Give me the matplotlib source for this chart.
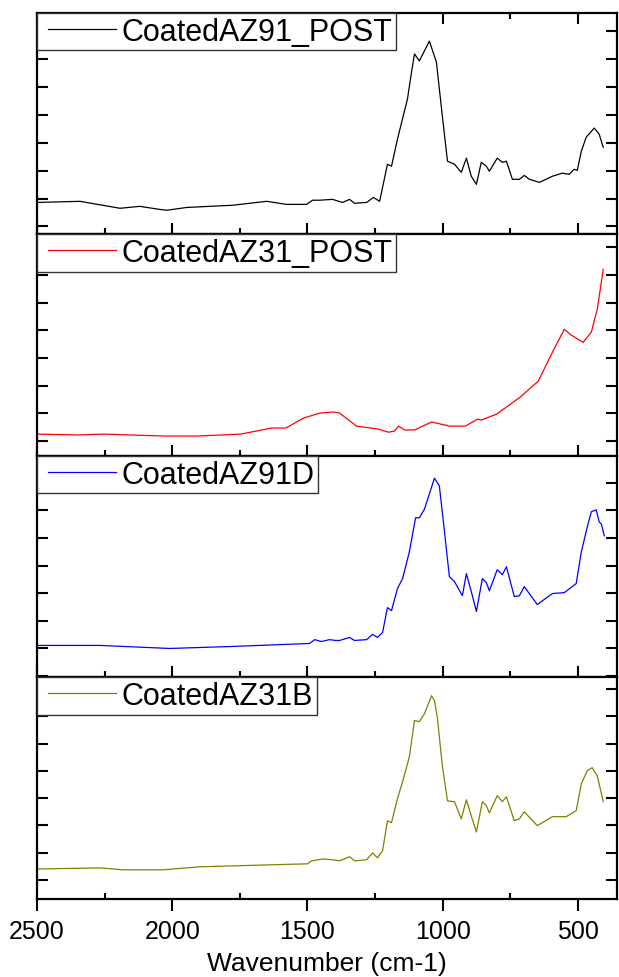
import matplotlib
matplotlib.use("Agg")
import matplotlib.pyplot as plt
from matplotlib.ticker import MultipleLocator
from matplotlib.legend_handler import HandlerLine2D

plt.rcParams['font.family'] = ['Liberation Sans', 'DejaVu Sans']

# ---- data (wavenumber, relative absorbance in tick units) ----
labels = ["CoatedAZ91_POST", "CoatedAZ31_POST", "CoatedAZ91D", "CoatedAZ31B"]
colors = ["#000000", "#ff0000", "#0000ff", "#808000"]

wn_az91_post = [2500, 2341, 2193, 2120, 2046, 2020, 1946, 1776, 1651, 1577, 1529, 1503,
                1481, 1455, 1407, 1370, 1344, 1326, 1281, 1256, 1233, 1204, 1189, 1167,
                1130, 1115, 1104, 1086, 1049, 1023, 1001, 982, 956, 931, 912, 894, 875,
                857, 838, 827, 798, 779, 764, 742, 716, 698, 679, 642, 594, 558, 532,
                513, 502, 487, 469, 439, 421, 406]
ab_az91_post = [0.86, 0.90, 0.65, 0.72, 0.61, 0.58, 0.68, 0.76, 0.90, 0.79, 0.79, 0.79,
                0.94, 0.94, 0.97, 0.86, 0.97, 0.83, 0.86, 1.04, 0.90, 2.23, 2.16, 3.13,
                4.57, 5.54, 6.19, 5.94, 6.65, 5.90, 3.96, 2.34, 2.23, 1.94, 2.45, 1.80,
                1.51, 2.30, 2.16, 1.98, 2.45, 2.30, 2.34, 1.69, 1.69, 1.83, 1.69, 1.58,
                1.80, 1.91, 1.87, 2.05, 2.01, 2.70, 3.20, 3.53, 3.31, 2.84]

wn_az31_post = [2500, 2345, 2256, 2024, 1909, 1747, 1632, 1580, 1514, 1455, 1403, 1381,
                1318, 1237, 1200, 1178, 1163, 1141, 1104, 1041, 975, 916, 871, 857, 801,
                713, 646, 594, 550, 524, 480, 450, 428, 406]
ab_az31_post = [0.25, 0.22, 0.25, 0.18, 0.18, 0.25, 0.47, 0.47, 0.83, 1.01, 1.05, 1.01,
                0.54, 0.43, 0.32, 0.36, 0.54, 0.40, 0.40, 0.69, 0.54, 0.54, 0.79, 0.76,
                0.97, 1.59, 2.17, 3.21, 4.04, 3.83, 3.57, 3.94, 4.77, 6.21]

wn_az91d = [2500, 2267, 2009, 1787, 1492, 1473, 1448, 1418, 1396, 1381, 1344, 1326,
            1281, 1259, 1241, 1222, 1204, 1189, 1167, 1148, 1123, 1100, 1086, 1067,
            1030, 1012, 993, 975, 956, 927, 912, 894, 875, 853, 838, 827, 798, 779,
            764, 735, 716, 698, 650, 594, 550, 506, 487, 465, 450, 432, 421, 413, 402]
ab_az91d = [0.11, 0.11, 0.00, 0.07, 0.18, 0.32, 0.25, 0.32, 0.29, 0.29, 0.40, 0.29,
            0.32, 0.51, 0.40, 0.58, 1.48, 1.37, 2.17, 2.53, 3.50, 4.73, 4.73, 5.05,
            6.17, 5.88, 4.22, 2.60, 2.42, 1.91, 2.71, 2.06, 1.34, 2.53, 2.38, 2.09,
            2.85, 2.67, 2.96, 1.88, 1.91, 2.24, 1.59, 1.99, 2.02, 2.35, 3.50, 4.40,
            4.95, 5.02, 4.58, 4.51, 4.08]

wn_az31b = [2500, 2267, 2182, 2035, 1898, 1647, 1499, 1484, 1440, 1411, 1381, 1344,
            1326, 1281, 1259, 1241, 1222, 1204, 1189, 1167, 1148, 1123, 1104, 1086,
            1067, 1041, 1030, 1019, 1001, 982, 956, 931, 912, 894, 875, 853, 838, 827,
            798, 779, 764, 735, 716, 698, 650, 594, 543, 506, 487, 465, 447, 428, 406]
ab_az31b = [0.40, 0.44, 0.37, 0.37, 0.48, 0.55, 0.59, 0.70, 0.77, 0.74, 0.70, 0.85,
            0.70, 0.74, 0.99, 0.81, 1.07, 2.17, 2.10, 2.98, 3.60, 4.52, 5.85, 5.81,
            6.10, 6.76, 6.58, 5.92, 4.19, 2.90, 2.87, 2.24, 2.94, 2.35, 1.76, 2.87,
            2.72, 2.46, 3.09, 2.87, 3.05, 2.17, 2.24, 2.50, 1.99, 2.32, 2.32, 2.54,
            3.53, 4.01, 4.12, 3.82, 2.87]

series_wn = [wn_az91_post, wn_az31_post, wn_az91d, wn_az31b]
series_ab = [ab_az91_post, ab_az31_post, ab_az91d, ab_az31b]
ylims = [(-0.29, 7.66), (-0.54, 7.47), (-1.05, 6.97), (-0.70, 7.43)]
yticks = [list(range(0, 8)), list(range(0, 8)), list(range(-1, 7)), list(range(0, 8))]
xticks_major = [2500, 2000, 1500, 1000, 500]

fig = plt.figure(figsize=(6.19, 9.78), dpi=100)
gs = fig.add_gridspec(4, 1, left=0.0598, right=0.9968, top=0.9857, bottom=0.0798, hspace=0)
axes = [fig.add_subplot(gs[i]) for i in range(4)]

for i, ax in enumerate(axes):
    line, = ax.plot(series_wn[i], series_ab[i], color=colors[i], lw=0.9, label=labels[i])
    ax.set_xlim(2500, 355)
    ax.set_ylim(*ylims[i])
    ax.set_yticks(yticks[i])
    ax.set_yticklabels([])
    ax.set_xticks(xticks_major)
    ax.xaxis.set_minor_locator(MultipleLocator(250))
    for s in ax.spines.values():
        s.set_linewidth(1.6)
    ax.tick_params(axis='y', which='major', direction='in', left=True, right=True,
                   length=8, width=1.5)
    if i < 3:
        ax.tick_params(axis='x', which='both', labelbottom=False)
        ax.tick_params(axis='x', which='major', direction='in', length=8, width=1.5,
                       top=(i == 0), bottom=True)
        ax.tick_params(axis='x', which='minor', direction='in', length=4.5, width=1.5,
                       top=(i == 0), bottom=True)
    else:
        ax.tick_params(axis='x', which='major', direction='out', length=8.5, width=1.5,
                       labelsize=18, pad=6, top=False)
        ax.tick_params(axis='x', which='minor', direction='in', length=4.5, width=1.5,
                       top=False)
        ax.set_xticklabels([str(t) for t in xticks_major])
        ax.set_xlabel("Wavenumber (cm-1)", fontsize=19, labelpad=6)
    leg = ax.legend(loc='upper left', bbox_to_anchor=(0, 1), borderaxespad=0,
                    fontsize=22, frameon=True, fancybox=False, framealpha=1,
                    edgecolor='#333333', handlelength=2.45, handletextpad=0.2,
                    borderpad=0.12,
                    handler_map={line: HandlerLine2D(xpad=0.25)})
    leg.get_frame().set_linewidth(1.0)

fig.savefig("out.png", dpi=100)
